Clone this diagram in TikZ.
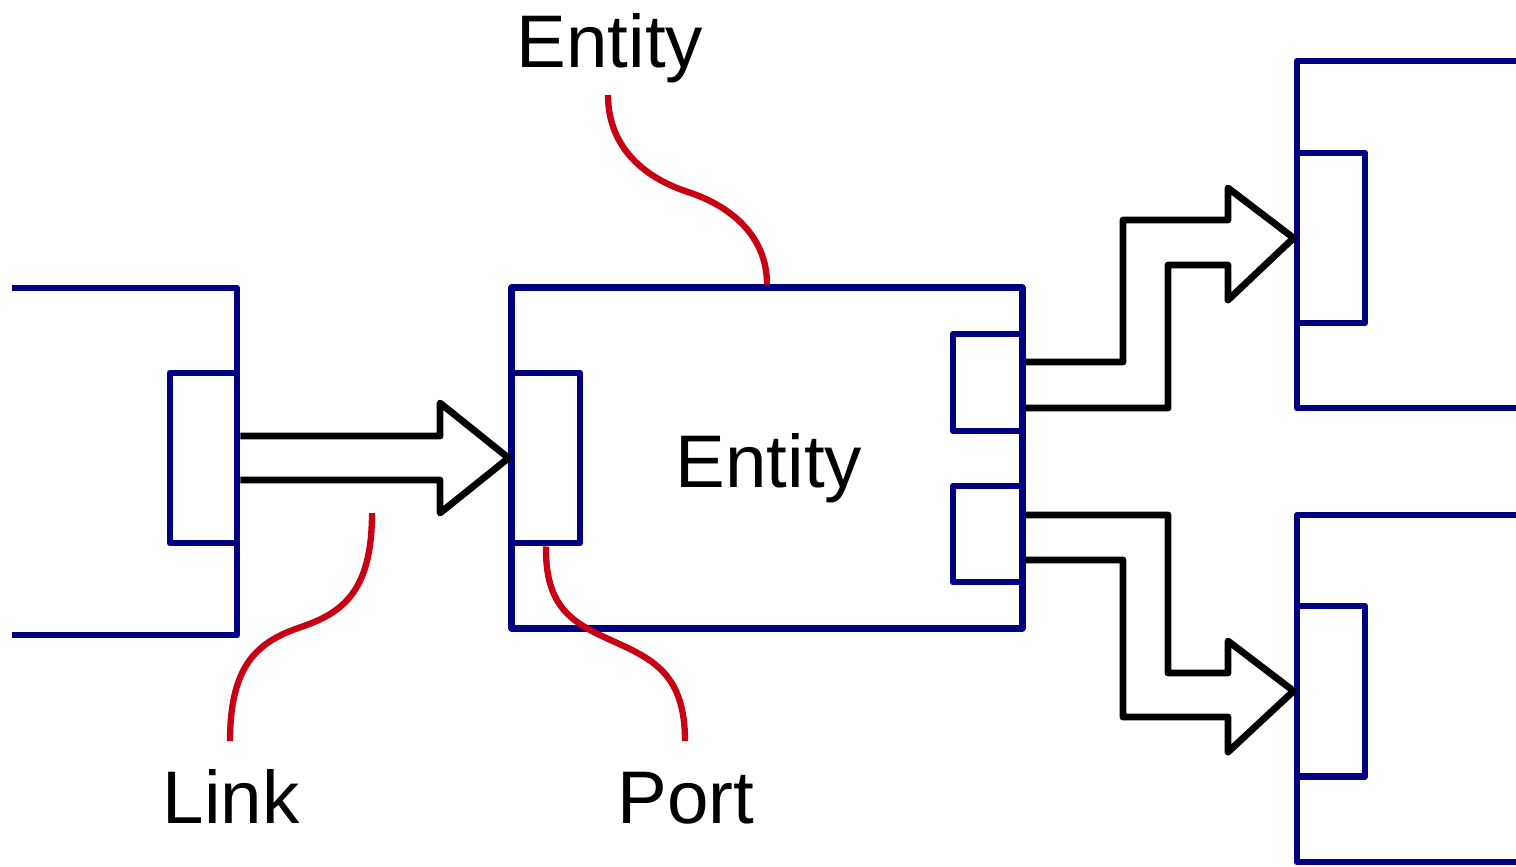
\documentclass[tikz,border=0pt]{standalone}
\usepackage{fontspec}
\setmainfont{Liberation Sans}
\definecolor{navyb}{RGB}{0,0,128}
\definecolor{callred}{RGB}{200,0,20}
\begin{document}
\begin{tikzpicture}[x=0.01cm,y=-0.01cm,
  bluebox/.style={draw=navyb,line width=1.95pt,line join=round,rectangle,inner sep=0pt},
  blueline/.style={draw=navyb,line width=1.95pt,line join=round},
  blockarrow/.style={draw=black,line width=1.95pt,line join=round},
  callout/.style={draw=callred,line width=1.8pt},
  lbl/.style={font=\fontsize{21.2}{25}\selectfont,inner sep=0pt,anchor=base}]
\useasboundingbox (0,0) rectangle (1516,866);
% central entity and ports
\node[bluebox,minimum width=5.10cm,minimum height=3.40cm] (cent) at (767,458) {};
\node[bluebox,minimum width=0.68cm,minimum height=1.70cm] (cin) at (546,458) {};
\node[bluebox,minimum width=0.69cm,minimum height=0.97cm] (cout1) at (987.5,382.5) {};
\node[bluebox,minimum width=0.69cm,minimum height=0.96cm] (cout2) at (987.5,534) {};
% left partial entity
\draw[blueline] (12,288) -- (237,288) -- (237,635) -- (12,635);
\node[bluebox,minimum width=0.67cm,minimum height=1.70cm] (lport) at (203.5,458) {};
% right partial entities
\draw[blueline] (1516,61) -- (1297,61) -- (1297,408) -- (1516,408);
\node[bluebox,minimum width=0.68cm,minimum height=1.70cm] (rport1) at (1331,238) {};
\draw[blueline] (1516,515) -- (1297,515) -- (1297,862) -- (1516,862);
\node[bluebox,minimum width=0.68cm,minimum height=1.70cm] (rport2) at (1331,691) {};
% link arrow
\draw[blockarrow] (lport.east |- 0,436) -- (440,436) -- (440,403) -- (cin.west)
  -- (440,513) -- (440,480) -- (lport.east |- 0,480);
% right arrows
\draw[blockarrow] (cent.east |- 0,362) -- (1123,362) -- (1123,220) -- (1228,220) -- (1228,188)
  -- (rport1.west) -- (1228,300) -- (1228,265) -- (1168,265) -- (1168,408) -- (cent.east |- 0,408);
\draw[blockarrow] (cent.east |- 0,515) -- (1168,515) -- (1168,673) -- (1228,673) -- (1228,641)
  -- (rport2.west) -- (1228,752) -- (1228,717) -- (1123,717) -- (1123,560) -- (cent.east |- 0,560);
% labels
\node[lbl] (tEnt) at (610,67) {Entity};
\node[lbl] (mEnt) at (769,487) {Entity};
\node[lbl] (tLink) at (231,823) {Link};
\node[lbl] (tPort) at (686,823) {Port};
% callouts
\coordinate (aEnt) at (608,95);
\coordinate (aLink) at (372,513);
\coordinate (bLink) at (230,741);
\coordinate (bPort) at (685,741);
\draw[callout] (aEnt) .. controls (608,150) and (648,179) .. (688,192)
  .. controls (728,205) and (767,234) .. (cent.north);
\draw[callout] (aLink) .. controls (372,592) and (342,613) .. (301,627)
  .. controls (260,641) and (230,662) .. (bLink);
\draw[callout] (cin.south) .. controls (545,610) and (575,624) .. (615,642)
  .. controls (655,660) and (685,676) .. (bPort);
\end{tikzpicture}
\end{document}
